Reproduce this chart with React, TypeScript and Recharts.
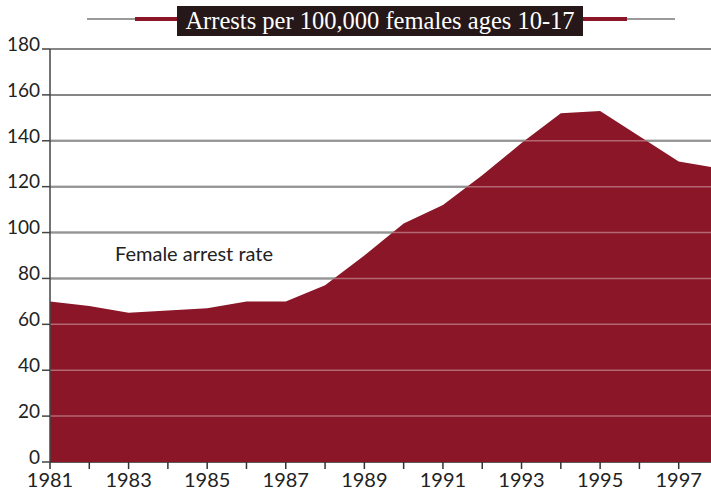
import { AreaChart, Area, XAxis, YAxis, CartesianGrid, ReferenceLine } from 'recharts';

// arrests per 100,000 females ages 10-17, by year
const years = [1981, 1982, 1983, 1984, 1985, 1986, 1987, 1988, 1989, 1990, 1991, 1992, 1993, 1994, 1995, 1996, 1997, 1998];
const arrestRates = [70, 68, 65, 66, 67, 70, 70, 77, 90, 104, 112, 125, 139, 152, 153, 142, 131, 128];
const yTicks = [0, 20, 40, 60, 80, 100, 120, 140, 160, 180];
const titleText = 'Arrests per 100,000 females ages 10-17';
const seriesLabel = 'Female arrest rate';

const data = years.map((year, i) => ({ year, rate: arrestRates[i] }));

const AXIS_FONT = 'Lato, "Open Sans", sans-serif';

const YTick = ({ x, y, payload }: any) => (
  <text x={x} y={y - 3} textAnchor="end" dominantBaseline="middle" fontSize={19} fontFamily={AXIS_FONT} fill="#222">
    {payload.value}
  </text>
);

const XTick = ({ x, y, payload }: any) =>
  payload.value % 2 === 1 ? (
    <text x={x} y={y + 16} textAnchor="middle" fontSize={20} fontFamily={AXIS_FONT} fill="#222">
      {payload.value}
    </text>
  ) : null;

const App = () => {
  return (
    <div
      style={{
        position: 'fixed',
        left: 0,
        top: 0,
        width: 711,
        height: 495,
        overflow: 'hidden',
        background: '#fff',
      }}
    >
      <AreaChart width={760} height={495} data={data} margin={{ top: 49, right: 42, left: 0, bottom: 0 }}>
        <CartesianGrid horizontal vertical={false} stroke="#5c5c5c" strokeWidth={2} />
        <XAxis
          dataKey="year"
          type="number"
          domain={[1981, 1998]}
          ticks={years}
          interval={0}
          height={33}
          tickSize={7}
          axisLine={false}
          tickLine={{ stroke: '#333', strokeWidth: 1.5 }}
          tick={<XTick />}
        />
        <YAxis
          domain={[0, 180]}
          ticks={yTicks}
          width={50}
          tickSize={8}
          axisLine={{ stroke: '#444', strokeWidth: 1.5 }}
          tickLine={{ stroke: '#444', strokeWidth: 1.5 }}
          tick={<YTick />}
        />
        <Area
          type="linear"
          dataKey="rate"
          stroke="none"
          fill="#8a1628"
          fillOpacity={1}
          isAnimationActive={false}
        />
        {/* pale grid lines showing through the filled area */}
        {yTicks.slice(1).map((t) => (
          <ReferenceLine key={t} y={t} stroke="#ffffff" strokeOpacity={0.35} strokeWidth={1.5} />
        ))}
      </AreaChart>

      <div
        style={{
          position: 'absolute',
          left: 115,
          top: 241,
          fontFamily: AXIS_FONT,
          fontSize: 20,
          color: '#222',
          whiteSpace: 'nowrap',
        }}
      >
        {seriesLabel}
      </div>

      {/* title banner with rules on both sides */}
      <div style={{ position: 'absolute', left: 87, top: 18, width: 48, height: 2, background: '#9a9a9a' }} />
      <div style={{ position: 'absolute', left: 135, top: 17, width: 43, height: 4, background: '#8a1628' }} />
      <div style={{ position: 'absolute', left: 583, top: 17, width: 44, height: 4, background: '#8a1628' }} />
      <div style={{ position: 'absolute', left: 627, top: 18, width: 48, height: 2, background: '#9a9a9a' }} />
      <div
        style={{
          position: 'absolute',
          left: 177,
          top: 6,
          width: 406,
          height: 30,
          background: '#261718',
          color: '#fff',
          fontFamily: '"Liberation Serif", "DejaVu Serif", serif',
          fontSize: 24.5,
          lineHeight: '30px',
          textAlign: 'center',
          whiteSpace: 'nowrap',
        }}
      >
        {titleText}
      </div>
    </div>
  );
};

export default App;
